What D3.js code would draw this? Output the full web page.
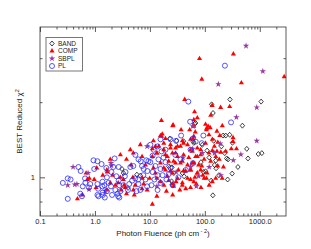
<!DOCTYPE html>
<html>
<head>
<meta charset="utf-8">
<script src="https://cdn.jsdelivr.net/npm/d3@7"></script>
<style>
  body { margin: 0; background: #fff; }
  svg { display: block; }
  text { font-family: "Liberation Sans", Arial, Helvetica, sans-serif; fill: #222; }
</style>
</head>
<body>
<svg width="311" height="249"></svg>
<script>
// ---- dados : [fluência, chi2 reduzido] ----
const xTickValues = [0.1, 1, 10, 100, 1000];
const xTickLabels = ["0.1", "1.0", "10.0", "100.0", "1000.0"];
const yTickValues = [1];
const yTickLabels = ["1"];
const yMinorTicks = [0.8, 0.9, 2, 3];

const seriesNames = ["BAND", "COMP", "SBPL", "PL"];

const band = [
  [287,2.05],[1057,2.01],[133,1.96],[141,1.81],[483,1.61],[215,1.47],[240,1.47],[65,1.64],
  [283,1.48],[318,1.375],[580,1.30],[940,1.24],[1090,1.25],[610,1.19],[265,1.18],[160,1.087],
  [314,1.035],[260,0.98],[140,0.847],[103,1.057],[145,1.40],[250,1.19],[158,1.167],
  [3.1,1.08],[3.3,1.04],[5.8,1.025],[6.7,1.016],[4.0,0.907],
  [23,1.43],[24.8,0.964],[25.6,0.935],[22,1.107],[25.2,1.097],[27.3,1.04],[39,1.04],[42,1.009],
  [61,1.395],[68,1.65],[30.6,1.40],[41,1.395],[63,1.374],
  [90,1.35],[110,1.28],[120,1.20],[85,1.15],[150,1.12],[95,1.05],[180,1.02],[130,0.97],
  [200,1.33],[230,1.25],[400,1.10]
];

const comp = [
  [331,3.12],[80,2.99],[2780,2.53],[88,2.47],[463,2.39],[43,2.05],[136,1.94],[194,1.905],
  [283,1.92],[65,1.83],[73,1.73],[26,1.61],[61.5,1.61],[208,1.61],[37,1.55],[67,1.52],
  [166,1.53],[16.2,1.69],[16.8,1.49],[128,1.77],[103,1.63],[115,1.60],[125,1.58],[108,1.57],
  [1.08,1.09],[0.69,1.04],[0.79,0.99],[0.97,0.98],[1.05,0.91],[0.48,0.82],[0.59,0.85],
  [1.65,0.89],[1.67,1.05],[2.65,0.95],[0.73,0.98],
  [3.75,1.18],[7.2,1.21],[1.65,1.07],[4.55,1.12],[1.39,1.02],[2.09,1.02],[2.89,1.0],[3.3,0.98],
  [4.9,1.0],[7.3,0.99],[9.9,0.99],[1.90,0.95],[2.35,0.93],[3.4,0.93],[3.57,0.91],[5.4,0.93],
  [7.7,0.94],[8.9,0.89],[3.0,0.89],[5.0,0.89],[7.2,0.90],[3.75,0.86],[5.2,0.85],
  [16.3,1.46],[39,1.40],[61,1.43],[15.6,0.96],[20,0.88],[13.4,0.84],[26,0.85],[11.1,0.78],
  [11.6,1.40],[14.5,1.33],[17.9,1.37],[23.7,1.35],[29.3,1.31],[36,1.33],[48.5,1.35],[55,1.29],
  [73,1.31],[13.4,1.25],[19.2,1.23],[25.7,1.25],[31.8,1.21],[41,1.23],[51,1.20],[68,1.21],
  [84,1.23],[22,1.16],[29.3,1.14],[39,1.16],[48.5,1.12],[59,1.14],[77,1.12],[17.9,1.09],
  [23.7,1.06],[33,1.07],[44.6,1.06],[55,1.07],[73,1.04],[20.8,1.01],[31.8,0.99],[48.5,0.99],
  [63,0.96],[12.6,1.04],[39,0.93],[55,0.91],[27,0.92],
  [326,1.44],[326,1.39],[303,1.30],[377,1.30],[137,1.28],[166,1.27],[195,1.26],[240,1.27],
  [218,1.10],[158,0.99],[107,0.99],[187,1.47],[84,1.07],[183,1.18],[137,0.96],[207,0.99],
  [26.5,1.62],[63,1.70],[19.2,1.43],[53,1.55],[63,1.46],[11.1,1.30],[12.6,1.33],[5.0,1.25],
  [15.6,1.47],[63,1.60],[107,1.55],
  [119,1.48],[137,1.42],[172,1.38],[149,1.33],[103,1.37],[84,1.29],[55,1.42],
  [41,1.37],[31.8,1.33],[23.7,1.31],[17.9,1.29],[13.4,1.25],[11.1,1.21],[20.8,1.21],[29.3,1.25],
  [59,1.27],[73,1.21],[97,1.18],[119,1.25],[158,1.21],[128,1.16],[172,1.11],[88,1.11],
  [63,1.14],[36,1.14],[27,1.16],[15.6,1.14],[11.6,1.09],[19.2,1.07],[25.7,1.04],[41,1.06],
  [55,1.07],[73,1.04],[13.4,0.99],[25.7,0.94],[39,0.95],[55,0.98],[97,0.99],[110,1.04],
  [4.4,1.29],[6.7,1.35],[2.9,1.23],[1.9,1.18],[8.3,1.12],
  [18,0.93],[30,0.96],[45,0.90],[70,0.94],[85,0.91],[22,0.97],[35,0.89],[120,0.93],
  [66,1.00],[92,1.02]
];

const sbpl = [
  [562,3.36],[1135,2.66],[176,2.36],[881,1.905],[375,1.74],[61,1.60],[881,1.40],[452,1.234],
  [330,1.17],[195,1.019],[190,1.365],
  [0.40,1.10],[0.75,1.04],[0.47,0.94],[0.43,0.935],[0.78,0.895],[0.32,0.93],[2.0,1.114],
  [13.4,0.92],[77,1.01],[1.96,1.14],[1.54,0.88],[8.9,1.33],
  [40,1.20],[55,1.10],[90,1.25],[120,1.10],[30,1.05],[70,0.92],[60,1.30],[150,1.25]
];

const pl = [
  [0.26,0.95],[0.32,0.99],[0.36,0.98],[0.50,1.10],[0.55,1.06],[0.94,1.17],[1.11,1.16],[0.97,1.08],
  [0.66,0.99],[0.67,0.95],[0.60,0.92],[0.82,0.94],[0.78,0.91],[1.11,0.94],[1.16,0.84],[0.54,0.86],
  [0.58,0.84],[0.32,0.82],[1.37,0.92],[1.14,0.90],[1.39,0.85],[1.11,0.85],[1.61,1.09],[2.28,1.19],
  [2.15,1.10],[1.77,0.95],[2.59,0.86],[2.05,0.85],[2.78,0.83],
  [5.44,1.23],[6.8,1.16],[8.6,1.17],[1.32,1.13],[4.41,1.10],[5.0,1.11],[7.2,1.11],[7.7,1.08],
  [1.65,1.0],[2.45,1.01],[2.70,0.97],[3.5,1.01],[4.75,0.97],[5.4,0.99],[6.1,0.98],[8.3,0.98],
  [1.37,0.96],[1.49,0.93],[1.96,0.92],[2.78,0.93],[4.2,0.94],[6.2,0.94],[8.9,0.92],[2.35,0.89],
  [1.65,0.88],[2.9,0.88],[6.7,0.89],[1.39,0.87],[1.51,0.83],[2.65,0.84],
  [10.2,1.35],[11.7,1.29],[13.8,1.33],[16.3,1.27],[11.2,1.22],[14.3,1.18],[17.7,1.20],[10.2,1.15],
  [12.6,1.11],[15.6,1.08],[19.2,1.15],[11.2,1.05],[13.8,1.02],[17,1.02],[12.1,0.98],[15.6,0.95],
  [10.7,0.93],[20,0.98],[13.8,0.89],[9.0,1.06],[23.7,1.09],[22,1.03],[19.2,1.29],[15.6,1.42],
  [23.7,1.42],
  [50,2.01],[232,2.80],[54,1.67],[300,1.66],[37,1.47],[94,1.47],[30,1.40],[61,1.43],[68,1.39],
  [61,1.14],[29,1.23],[36,1.18],[45,1.07],[26,0.93],[33,1.0],[55,1.29],[88,1.37],
  [2.7,1.10],[6.2,1.18],[9.4,1.16],[3.6,1.05],[4.0,0.89],[5.7,0.88],[7.6,1.02],[2.0,1.05],[3.3,0.93]
];

// ---- desenho ----
const svg = d3.select("svg");
const margin = { top: 27, right: 25, bottom: 33, left: 40 };
const width = 311, height = 249;
const x0 = margin.left, x1 = width - margin.right;
const y0 = margin.top, y1 = height - margin.bottom;

const x = d3.scaleLog().domain([0.1, 3000]).range([x0, x1]);
const y = d3.scaleLog().domain([0.7, 4]).range([y1, y0]);

// ticks menores em x: 2..9 de cada década
const xMinor = [];
for (let d = 0.1; d < 3000; d *= 10) {
  for (let k = 2; k <= 9; k++) if (k * d < 3000) xMinor.push(k * d);
}

const tickColor = "#333";

function styleAxis(g) {
  g.select(".domain").remove();
  g.selectAll("line").attr("stroke", tickColor).attr("stroke-width", 0.8);
  g.selectAll("text").style("font-size", "7.5px").attr("fill", "#222");
}

// eixo x inferior
svg.append("g").attr("transform", `translate(0,${y1})`)
  .call(d3.axisBottom(x).tickValues(xTickValues).tickSize(-5).tickPadding(3)
    .tickFormat((d, i) => xTickLabels[i]))
  .call(styleAxis);
svg.append("g").attr("transform", `translate(0,${y1})`)
  .call(d3.axisBottom(x).tickValues(xMinor).tickSize(-2.5).tickFormat(""))
  .call(styleAxis);
// eixo x superior
svg.append("g").attr("transform", `translate(0,${y0})`)
  .call(d3.axisTop(x).tickValues(xTickValues).tickSize(-5).tickFormat(""))
  .call(styleAxis);
svg.append("g").attr("transform", `translate(0,${y0})`)
  .call(d3.axisTop(x).tickValues(xMinor).tickSize(-2.5).tickFormat(""))
  .call(styleAxis);

// eixo y esquerdo / direito
svg.append("g").attr("transform", `translate(${x0},0)`)
  .call(d3.axisLeft(y).tickValues(yTickValues).tickSize(-5).tickPadding(5)
    .tickFormat((d, i) => yTickLabels[i]))
  .call(styleAxis);
svg.append("g").attr("transform", `translate(${x0},0)`)
  .call(d3.axisLeft(y).tickValues(yMinorTicks).tickSize(-2.5).tickFormat(""))
  .call(styleAxis);
svg.append("g").attr("transform", `translate(${x1},0)`)
  .call(d3.axisRight(y).tickValues(yTickValues).tickSize(-5).tickFormat(""))
  .call(styleAxis);
svg.append("g").attr("transform", `translate(${x1},0)`)
  .call(d3.axisRight(y).tickValues(yMinorTicks).tickSize(-2.5).tickFormat(""))
  .call(styleAxis);

// clip da área
svg.append("clipPath").attr("id", "plot-clip")
  .append("rect").attr("x", x0).attr("y", y0).attr("width", x1 - x0).attr("height", y1 - y0);

const marks = svg.append("g").attr("clip-path", "url(#plot-clip)");

const diamondPath = "M0,-2.5L2.2,0L0,2.5L-2.2,0Z";
const triPath = d3.symbol().type(d3.symbolTriangle).size(11)();
const starPath = d3.symbol().type(d3.symbolStar).size(13)();

const styles = {
  BAND: { data: band, draw: sel => sel.append("path").attr("d", diamondPath)
            .attr("fill", "none").attr("stroke", "#111").attr("stroke-width", 0.8) },
  COMP: { data: comp, draw: sel => sel.append("path").attr("d", triPath)
            .attr("fill", "#ff0000") },
  SBPL: { data: sbpl, draw: sel => sel.append("path").attr("d", starPath)
            .attr("fill", "#9a3aa0") },
  PL:   { data: pl, draw: sel => sel.append("circle").attr("r", 2.5)
            .attr("fill", "none").attr("stroke", "#2a2aff").attr("stroke-width", 0.8) }
};

for (const name of seriesNames) {
  const s = styles[name];
  const g = marks.append("g").attr("class", "s-" + name);
  const pts = g.selectAll("g.pt").data(s.data).enter().append("g")
    .attr("class", "pt")
    .attr("transform", d => `translate(${x(d[0])},${y(d[1])})`);
  s.draw(pts);
}

// moldura
svg.append("rect").attr("x", x0).attr("y", y0).attr("width", x1 - x0).attr("height", y1 - y0)
  .attr("fill", "none").attr("stroke", "#333").attr("stroke-width", 0.8);

// legenda
const leg = svg.append("g").attr("transform", "translate(46,37.5)");
leg.append("rect").attr("width", 36.5).attr("height", 33.5)
  .attr("fill", "#fff").attr("stroke", "#555").attr("stroke-width", 0.8);
seriesNames.forEach((name, i) => {
  const row = leg.append("g").attr("transform", `translate(6,${6 + i * 7.5})`);
  styles[name].draw(row);
  row.append("text").attr("x", 6).attr("y", 2.3).style("font-size", "6.5px").text(name);
});

// títulos dos eixos
svg.append("text")
  .attr("x", (x0 + x1) / 2).attr("y", 236)
  .attr("text-anchor", "middle").style("font-size", "8px")
  .call(t => {
    t.append("tspan").text("Photon Fluence (ph cm");
    t.append("tspan").attr("dy", -3).style("font-size", "5.5px").text(" - 2");
    t.append("tspan").attr("dy", 3).text(")");
  });

svg.append("text")
  .attr("transform", `translate(22,${(y0 + y1) / 2}) rotate(-90)`)
  .attr("text-anchor", "middle").style("font-size", "8px")
  .call(t => {
    t.append("tspan").text("BEST Reduced χ");
    t.append("tspan").attr("dy", -3).style("font-size", "5.5px").text("2");
  });
</script>
</body>
</html>
